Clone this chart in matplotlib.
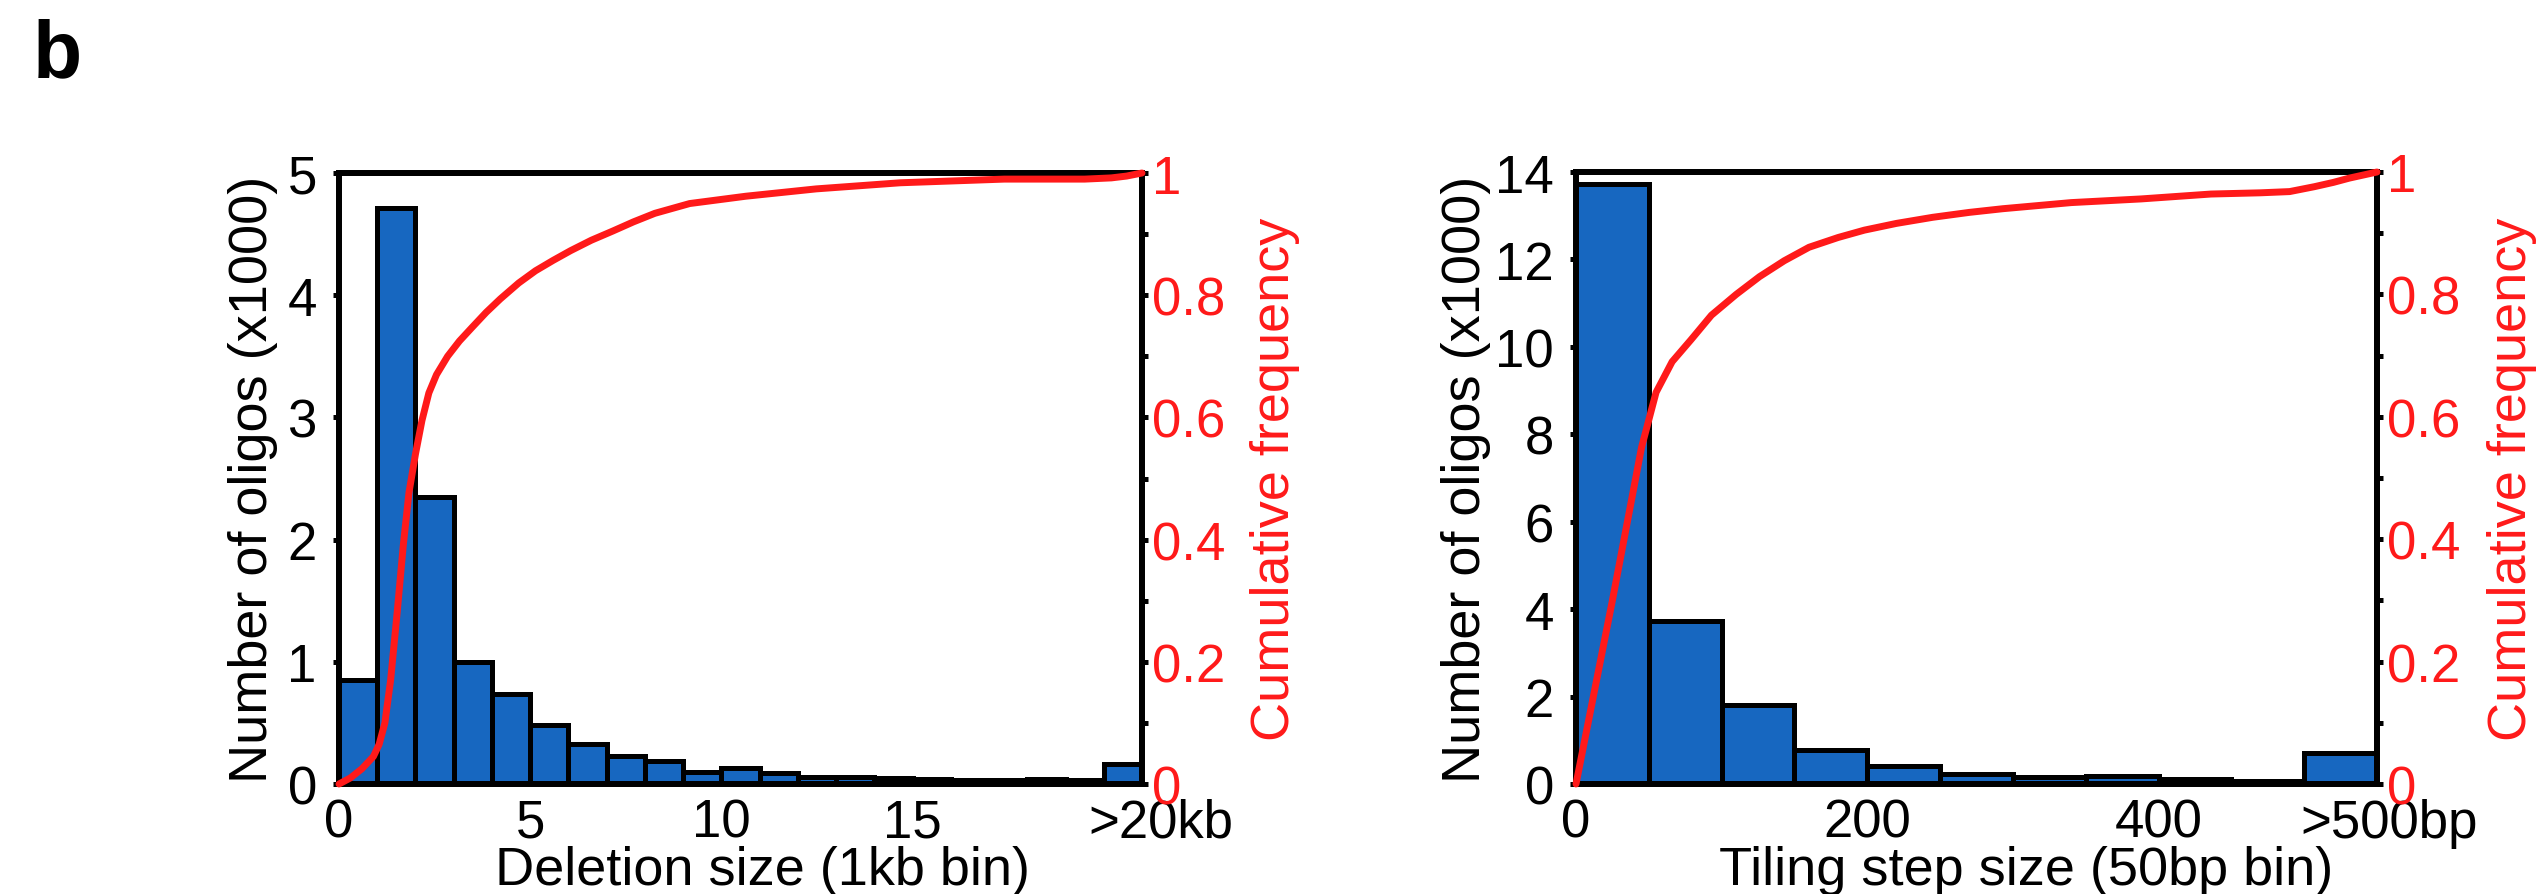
import matplotlib
matplotlib.use("Agg")
import matplotlib.pyplot as plt
from matplotlib.ticker import FixedLocator, MultipleLocator
from matplotlib.transforms import ScaledTranslation

plt.rcParams['font.family'] = ['Liberation Sans', 'DejaVu Sans']

# ---------------- data ----------------
# Panel 1: deletion size, 1 kb bins (21st bin = >20 kb), counts in thousands
del_counts = [0.85, 4.71, 2.35, 1.00, 0.74, 0.48, 0.33, 0.23, 0.19, 0.10,
              0.13, 0.09, 0.06, 0.06, 0.05, 0.04, 0.03, 0.03, 0.04, 0.03, 0.16]
del_ticks = [0, 5, 10, 15, 21]
del_ticklabels = ['0', '5', '10', '15', '>20kb']
del_cum_x = [0, 0.3, 0.6, 0.9, 1.05, 1.2, 1.35, 1.52, 1.68, 1.83, 2.0, 2.17,
             2.35, 2.55, 2.84, 3.15, 3.49, 3.85, 4.22, 4.7, 5.14, 5.6, 6.06,
             6.6, 7.16, 7.7, 8.26, 9.17, 10.64, 12.48, 14.68, 17.4, 19.5,
             20.2, 20.6, 21.0]
del_cum_y = [0, 0.01, 0.025, 0.045, 0.065, 0.10, 0.17, 0.28, 0.39, 0.477,
             0.54, 0.595, 0.64, 0.67, 0.70, 0.725, 0.748, 0.772, 0.794, 0.82,
             0.84, 0.857, 0.873, 0.89, 0.905, 0.92, 0.934, 0.95, 0.962, 0.974,
             0.984, 0.99, 0.99, 0.992, 0.995, 1.0]

# Panel 2: tiling step size, 50 bp bins (11th bin = >500 bp), counts in thousands
tile_counts = [13.72, 3.72, 1.81, 0.78, 0.42, 0.22, 0.17, 0.19, 0.11, 0.08, 0.72]
tile_ticks = [0, 200, 400, 550]
tile_ticklabels = ['0', '200', '400', '>500bp']
tile_cum_x = [0, 25, 45, 55, 66, 79, 93, 110, 126, 143, 160, 180, 198, 220,
              245, 270, 293, 340, 388, 436, 470, 490, 507, 520, 531, 550]
tile_cum_y = [0, 0.30, 0.55, 0.64, 0.69, 0.726, 0.766, 0.80, 0.829, 0.855,
              0.877, 0.893, 0.905, 0.916, 0.926, 0.934, 0.94, 0.95, 0.956,
              0.964, 0.966, 0.968, 0.976, 0.983, 0.99, 1.0]

BLUE = '#1767C0'
RED = '#FF1A1A'
TICK_FS = 38
LABEL_FS = 39
LW = 3.6

W, H = 2536, 895
fig = plt.figure(figsize=(W / 100, H / 100), dpi=100)


def panel(rect, counts, binw, ymax, yticks, xticks, xticklabels, cum_x, cum_y,
          xlabel, xlabel_x, ylabel_x, rlabel_x, last_dx):
    ax = fig.add_axes(rect)
    n = len(counts)
    lefts = [i * binw for i in range(n)]
    ax.bar(lefts, counts, width=binw, align='edge', color=BLUE,
           edgecolor='black', linewidth=LW, zorder=2)
    ax.set_xlim(0, n * binw)
    ax.set_ylim(0, ymax)
    ax.set_yticks(yticks)
    ax.set_xticks(xticks)
    ax.set_xticklabels(xticklabels)
    for s in ax.spines.values():
        s.set_linewidth(LW + 0.6)
        s.set_color('black')
    ax.tick_params(axis='x', length=0, pad=10, labelsize=TICK_FS)
    ax.tick_params(axis='y', direction='out', length=4, width=LW,
                   pad=12, labelsize=TICK_FS)
    ax.set_xlabel(xlabel, fontsize=LABEL_FS, va='baseline')
    ax.xaxis.set_label_coords(xlabel_x, -0.1637)
    ax.set_ylabel('Number of oligos (x1000)', fontsize=LABEL_FS, va='center')
    ax.yaxis.set_label_coords(ylabel_x, 0.5)
    # shift last x tick label slightly right
    lbl = ax.get_xticklabels()[-1]
    lbl.set_transform(lbl.get_transform() +
                      ScaledTranslation(last_dx / 100, 0, fig.dpi_scale_trans))

    axr = ax.twinx()
    axr.plot(cum_x, cum_y, color=RED, linewidth=5, solid_capstyle='round',
             solid_joinstyle='round', clip_on=False, zorder=5)
    axr.set_ylim(0, 1)
    axr.set_xlim(0, n * binw)
    axr.yaxis.set_major_locator(FixedLocator([0, 0.2, 0.4, 0.6, 0.8, 1.0]))
    axr.yaxis.set_minor_locator(MultipleLocator(0.1))
    axr.set_yticklabels(['0', '0.2', '0.4', '0.6', '0.8', '1'])
    axr.tick_params(axis='y', which='both', direction='out', length=4,
                    width=LW, color='black', pad=3, labelsize=TICK_FS,
                    labelcolor=RED)
    for s in axr.spines.values():
        s.set_linewidth(LW + 0.6)
        s.set_color('black')
    axr.set_ylabel('Cumulative frequency', fontsize=LABEL_FS, color=RED,
                   va='center')
    axr.yaxis.set_label_coords(rlabel_x, 0.5)
    return ax, axr


panel([339 / W, 1 - 785 / H, 803 / W, 611 / H], del_counts, 1, 5,
      [0, 1, 2, 3, 4, 5], del_ticks, del_ticklabels, del_cum_x, del_cum_y,
      'Deletion size (1kb bin)', 0.528, -0.107, 1.166, 19)

panel([1576 / W, 1 - 785 / H, 801 / W, 612 / H], tile_counts, 50, 14,
      [0, 2, 4, 6, 8, 10, 12, 14], tile_ticks, tile_ticklabels, tile_cum_x,
      tile_cum_y, 'Tiling step size (50bp bin)', 0.562, -0.137, 1.168, 12)

fig.text(33 / W, 1 - 77 / H, 'b', fontsize=58, fontweight='bold',
         ha='left', va='baseline')

fig.savefig('out.png', dpi=100)
